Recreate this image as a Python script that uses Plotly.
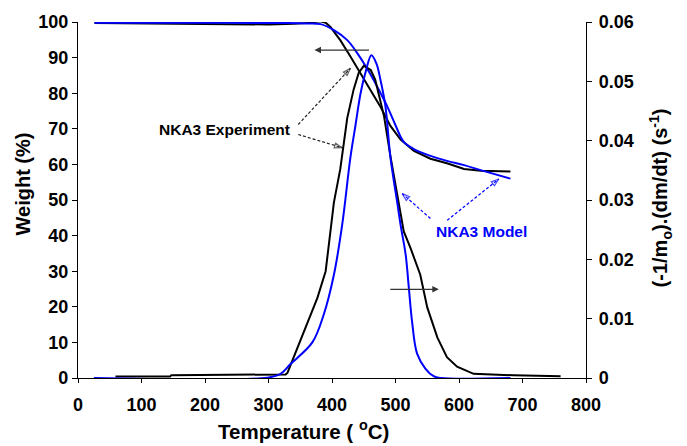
import plotly.graph_objects as go

# ---- Data ----
# Experiment TG (weight %)
exp_tg_T = [26, 100, 200, 250, 300, 340, 360, 375, 382, 390, 397.6, 405, 413, 429, 445, 460,
            476, 492, 508, 529, 555, 581, 608, 634, 681]
exp_tg_W = [99.7, 99.6, 99.5, 99.3, 99.3, 99.5, 99.7, 100.1, 100.2, 99.8, 98.6, 96.8, 94.9, 90.3,
            85.6, 81.0, 76.3, 70.8, 67.0, 63.8, 61.6, 60.3, 58.7, 58.2, 58.0]

# Model TG (weight %)
mod_tg_T = [26, 200, 330, 360, 382, 403, 424, 440, 455, 471, 487, 500, 513, 529, 555, 581,
            608, 634, 681]
mod_tg_W = [99.8, 99.8, 99.7, 99.6, 99.4, 97.7, 94.9, 91.2, 87.0, 81.9, 76.3, 71.0, 66.3, 64.3,
            62.4, 61.0, 59.8, 58.4, 56.0]

# Experiment DTG (s^-1)
exp_dtg_T = [59, 145, 147, 300, 327, 330, 342, 356, 377, 390, 398, 403, 413, 424, 434, 442, 450,
             461, 468, 476, 482, 492, 503, 513, 524, 539, 550, 566, 581, 597, 623, 686, 760]
exp_dtg_R = [0.00024, 0.00024, 0.00048, 0.00048, 0.0006, 0.0009, 0.0041, 0.0080, 0.0135, 0.0180,
             0.0246, 0.0296, 0.0352, 0.0438, 0.0486, 0.0514, 0.0526, 0.0519, 0.0503, 0.0469,
             0.0441, 0.0374, 0.0308, 0.0247, 0.0218, 0.0174, 0.0119, 0.0068, 0.0035, 0.0019,
             0.0007, 0.00045, 0.0003]

# Model DTG (s^-1)
mod_dtg_T = [25, 298, 319, 335, 369, 387, 403, 416, 429, 437, 445, 453, 462, 470, 476, 484, 492,
             503, 508, 516, 521, 526, 534, 547, 560, 571, 681]
mod_dtg_R = [0.0, 0.00006, 0.0007, 0.0024, 0.0060, 0.0107, 0.0174, 0.0258, 0.0372, 0.0426,
             0.0480, 0.0516, 0.0544, 0.0530, 0.0504, 0.0459, 0.0372, 0.0294, 0.0258, 0.0208,
             0.0152, 0.0096, 0.0041, 0.0016, 0.0003, 0.0, 0.0]

# Annotation geometry (axis units: T, weight %)
exp_label = ("NKA3 Experiment", 230.7, 69.8)
exp_arrows = [((346.8, 71.2), (429.0, 87.0)), ((346.8, 68.4), (416.0, 64.7))]
mod_label = ("NKA3 Model", 634.8, 41.1)
mod_arrows = [((555.0, 44.8), (510.6, 51.8)), ((581.4, 44.3), (662.7, 55.9))]
left_arrow = ((460.6, 92.1), (372.4, 92.1))
right_arrow = ((489.4, 24.9), (568.2, 24.9))

FONT = "Liberation Sans, Arial, sans-serif"
BLUE = "#0000FF"

fig = go.Figure()
fig.add_trace(go.Scatter(x=exp_tg_T, y=exp_tg_W, mode="lines",
                         line=dict(color="black", width=2), showlegend=False))
fig.add_trace(go.Scatter(x=mod_tg_T, y=mod_tg_W, mode="lines", line_shape="spline",
                         line=dict(color=BLUE, width=2), showlegend=False))
fig.add_trace(go.Scatter(x=exp_dtg_T, y=exp_dtg_R, mode="lines", yaxis="y2",
                         line=dict(color="black", width=2), showlegend=False))
fig.add_trace(go.Scatter(x=mod_dtg_T, y=mod_dtg_R, mode="lines", yaxis="y2", line_shape="spline",
                         line=dict(color=BLUE, width=2), showlegend=False))

# dashed arrows
for arrows, col in ((exp_arrows, "#222222"), (mod_arrows, BLUE)):
    for (x0, y0), (x1, y1) in arrows:
        fig.add_trace(go.Scatter(
            x=[x0, x1], y=[y0, y1], mode="lines+markers",
            line=dict(color=col, width=1.2, dash="3px,2px"),
            marker=dict(symbol="arrow-open", size=[0, 8], angleref="previous",
                        color=col, line=dict(color=col, width=1.2)),
            showlegend=False, hoverinfo="skip"))

annos = []
annos.append(dict(x=exp_label[1], y=exp_label[2], xref="x", yref="y", text=exp_label[0],
                  xanchor="center", yanchor="middle",
                  showarrow=False, font=dict(family=FONT, size=15.5, color="black", weight="bold")))
annos.append(dict(x=mod_label[1], y=mod_label[2], xref="x", yref="y", text=mod_label[0],
                  xanchor="center", yanchor="middle",
                  showarrow=False, font=dict(family=FONT, size=15.5, color=BLUE, weight="bold")))
for (tx, ty), (hx, hy) in (left_arrow, right_arrow):
    annos.append(dict(x=hx, y=hy, xref="x", yref="y", ax=tx, ay=ty, axref="x", ayref="y",
                      text="", showarrow=True, arrowhead=2, arrowsize=1, arrowwidth=1.3,
                      arrowcolor="#333333", standoff=0, startstandoff=0))
# axis titles
annos.append(dict(x=-0.108, y=0.544, xref="paper", yref="paper", text="Weight (%)", textangle=-90,
                  xanchor="center", yanchor="middle",
                  showarrow=False, font=dict(family=FONT, size=20, color="black", weight="bold")))
annos.append(dict(x=1.146, y=0.505, xref="paper", yref="paper",
                  text="(-1/m<sub>o</sub>).(dm/dt) (s<sup>-1</sup>)", textangle=-90,
                  xanchor="center", yanchor="middle",
                  showarrow=False, font=dict(family=FONT, size=20, color="black", weight="bold")))
annos.append(dict(x=0.443, y=-0.145, xref="paper", yref="paper",
                  text="Temperature ( <sup>o</sup>C)", xanchor="center", yanchor="middle",
                  showarrow=False, font=dict(family=FONT, size=20.5, color="black", weight="bold")))

tickfont = dict(family=FONT, size=18, color="black", weight="bold")
fig.update_layout(
    width=687, height=446,
    margin=dict(l=78, r=101, t=18, b=68),
    paper_bgcolor="white", plot_bgcolor="white",
    showlegend=False,
    annotations=annos,
    xaxis=dict(range=[0, 800], dtick=100, tick0=0, showgrid=False, zeroline=False,
               showline=True, linecolor="black", linewidth=1.3, ticks="outside", ticklen=4,
               tickwidth=1.3, tickcolor="black", tickfont=tickfont, ticklabelstandoff=6),
    yaxis=dict(range=[0, 100], dtick=10, tick0=0, showgrid=False, zeroline=False,
               showline=True, linecolor="black", linewidth=1.3, ticks="outside", ticklen=5,
               tickwidth=1.3, tickcolor="black", tickfont=tickfont),
    yaxis2=dict(range=[0, 0.06], dtick=0.01, tick0=0, overlaying="y", side="right",
                showgrid=False, zeroline=False, showline=True, linecolor="black", linewidth=1.3,
                ticks="outside", ticklen=5, tickwidth=1.3, tickcolor="black", tickfont=tickfont,
                ticklabelstandoff=3),
)

fig.write_html("out.html", config={"displayModeBar": False},
               post_script="document.body.style.margin='0';")
